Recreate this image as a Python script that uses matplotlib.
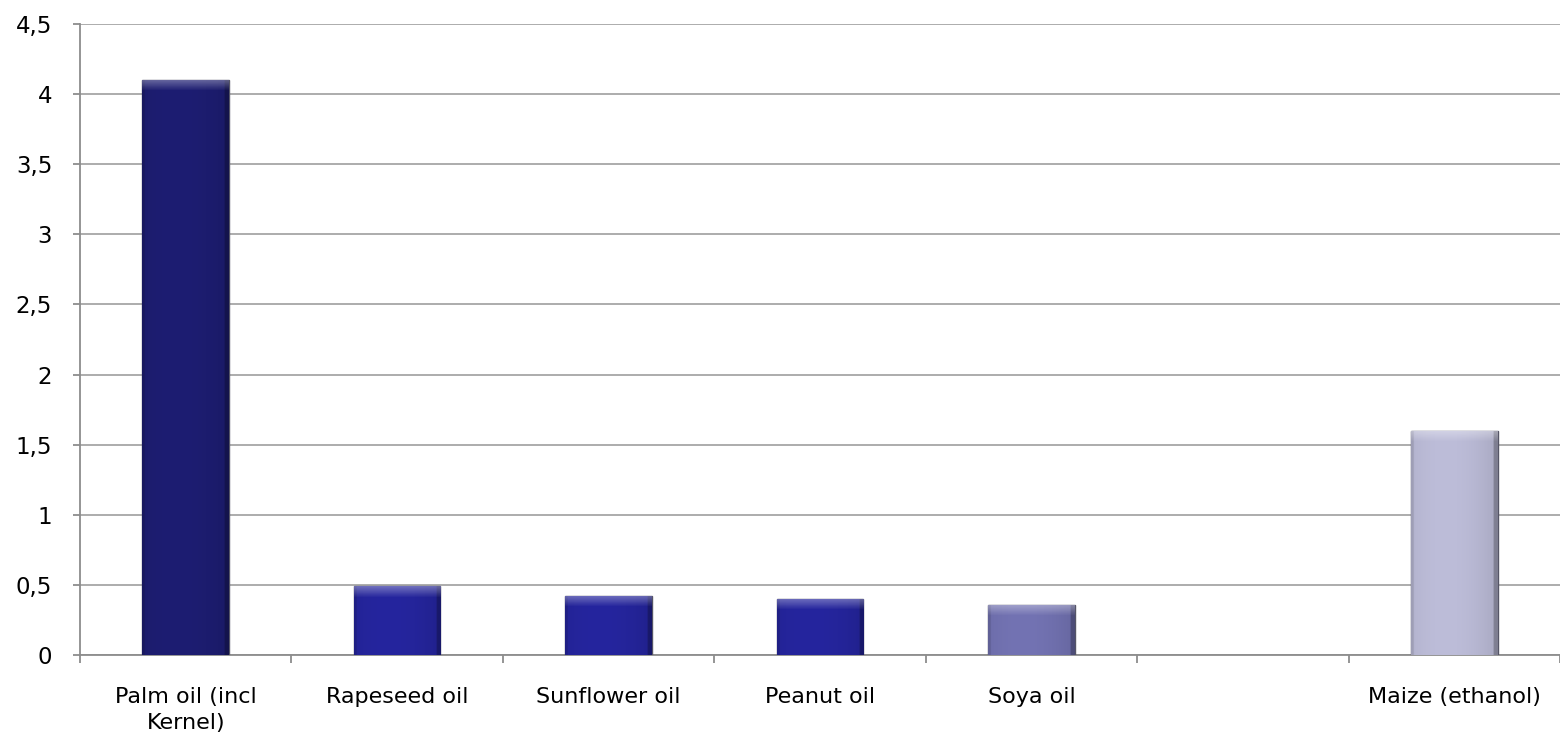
import numpy as np
import matplotlib
matplotlib.use("Agg")
import matplotlib.pyplot as plt
from matplotlib.colors import to_rgb

# Chart data
categories = ["Palm oil (incl\nKernel)", "Rapeseed oil", "Sunflower oil", "Peanut oil", "Soya oil", "", "Maize (ethanol)"]
values = [4.1, 0.49, 0.42, 0.40, 0.36, np.nan, 1.6]
bar_colors = ["#1d1d72", "#25259e", "#25259e", "#25259e", "#7373b3", "#ffffff", "#bdbdd9"]
y_ticks = [0, 0.5, 1, 1.5, 2, 2.5, 3, 3.5, 4, 4.5]

fig = plt.figure(figsize=(15.6, 7.4), dpi=100)
ax = fig.add_axes([80 / 1560, 85 / 740, 1480 / 1560, 631 / 740])

x = np.arange(len(categories))
bars = ax.bar(x, values, width=0.41, color=bar_colors, edgecolor="#555566", linewidth=1.0, zorder=3)

ax.set_xlim(-0.5, len(categories) - 0.5)
ax.set_ylim(0, 4.5)

# bevel-ish shading on each bar, clipped to the bar itself
for b, c in zip(bars, bar_colors):
    if np.isnan(b.get_height()):
        continue
    base = np.array(to_rgb(c))
    t = np.linspace(0, 1, 60)
    shade = 1.0 - 0.3 * np.abs(t - 0.4) ** 2
    shade[-3:] *= 0.75
    shade[:2] *= 0.88
    img = np.clip(base[None, :] * shade[:, None], 0, 1)[None, :, :]
    bx, by, bw, bh = b.get_x(), b.get_y(), b.get_width(), b.get_height()
    im = ax.imshow(img, extent=[bx, bx + bw, by, by + bh], aspect="auto", zorder=3.5, interpolation="bilinear")
    im.set_clip_path(b)
    # light highlight along the top, fading downwards
    top = min(0.08, bh * 0.25)
    hl = ax.imshow(np.ones((20, 1, 3)), extent=[bx, bx + bw, by + bh - top, by + bh], aspect="auto",
                   zorder=3.6, alpha=np.linspace(0.35, 0.0, 20)[:, None], interpolation="bilinear")
    hl.set_clip_path(b)

# Horizontal gridlines
ax.set_yticks(y_ticks)
ax.set_yticklabels([f"{t:g}".replace(".", ",") for t in y_ticks], fontsize=16.5)
ax.yaxis.grid(True, color="#a6a6a6", linewidth=1.3, zorder=0)
ax.set_axisbelow(True)

# Category labels at centers, tick marks at boundaries
ax.set_xticks(x)
ax.set_xticklabels(categories, fontsize=16, linespacing=1.4)
ax.set_xticks(np.arange(-0.5, len(categories), 1), minor=True)
ax.tick_params(axis="x", which="major", length=0, pad=23)
ax.tick_params(axis="x", which="minor", length=6, color="#8c8c8c", width=1.3)
ax.tick_params(axis="y", length=5, color="#8c8c8c", width=1.3, pad=15)

for side in ["top", "right"]:
    ax.spines[side].set_visible(False)
for side in ["left", "bottom"]:
    ax.spines[side].set_color("#8c8c8c")
    ax.spines[side].set_linewidth(1.3)

plt.savefig("out.png", dpi=100)
